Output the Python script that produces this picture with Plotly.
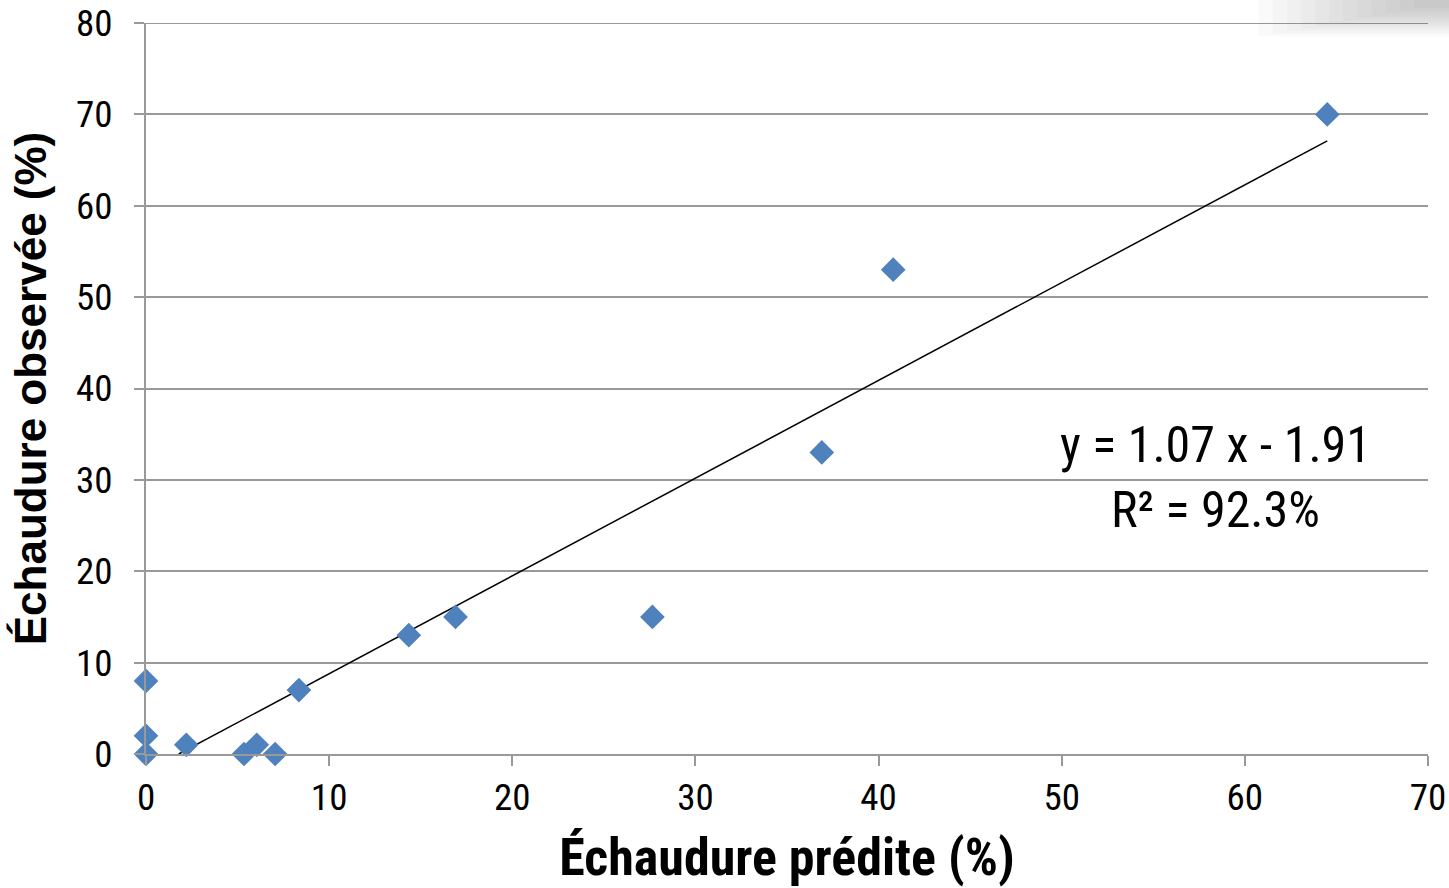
import plotly.graph_objects as go

predite = [0, 0, 0, 2.2, 5.35, 6.05, 7.05, 8.35, 14.35, 16.9, 27.65, 36.9, 40.8, 64.5]
observee = [0, 2, 8, 1, 0, 1, 0, 7, 13, 15, 15, 33, 53, 70]
pente = 1.07
ordonnee = -1.91
x_tendance = [1.785, 64.5]
y_tendance = [pente * x + ordonnee for x in x_tendance]
x_ticks = [0, 10, 20, 30, 40, 50, 60, 70]
y_ticks = [0, 10, 20, 30, 40, 50, 60, 70, 80]

font_narrow = "Liberation Sans Narrow, Arial Narrow, Roboto Condensed, sans-serif"
font_wide = "Liberation Sans"

fig = go.Figure()
fig.add_trace(go.Scatter(x=x_tendance, y=y_tendance, mode="lines",
                         line=dict(color="black", width=1.5), showlegend=False,
                         hoverinfo="skip"))
fig.add_trace(go.Scatter(x=predite, y=observee, mode="markers",
                         marker=dict(symbol="diamond", size=19, color="#4F81BD",
                                     line=dict(width=0)),
                         showlegend=False, cliponaxis=False))

# top gridline (plotly drops the grid line at the range edge)
fig.add_shape(type="line", xref="paper", yref="y", x0=0, x1=1,
              y0=y_ticks[-1], y1=y_ticks[-1],
              line=dict(color="#999999", width=2), layer="below")

# soft shadow in top-right corner
n = 12
for i in range(n):
    fig.add_shape(type="rect", xref="paper", yref="paper",
                  x0=0.868 + 0.011 * i, x1=1.02,
                  y0=0.982 + 0.0035 * i, y1=1.04,
                  fillcolor="#7a7a7a", opacity=0.035,
                  line=dict(width=0), layer="below")

fig.add_annotation(x=0.834, y=0.378, xref="paper", yref="paper",
                   text="y = 1.07 x - 1.91<br>R² = 92.3%", showarrow=False,
                   font=dict(family=font_narrow, size=50, color="black"),
                   align="center", xanchor="center", yanchor="middle")

fig.update_layout(
    width=1449, height=888,
    margin=dict(l=146, r=21, t=23, b=134, autoexpand=False),
    paper_bgcolor="white", plot_bgcolor="white",
    font=dict(family=font_narrow, color="black"),
    xaxis=dict(range=[0, 70], tickvals=x_ticks, showgrid=False, zeroline=False,
               automargin=False, ticklabeloverflow="allow",
               showline=True, linecolor="#999999", linewidth=2,
               ticks="outside", ticklen=10, tickcolor="#999999", tickwidth=2,
               tickfont=dict(size=37, family=font_narrow),
               title=dict(text="<b>Échaudure prédite (%)</b>", standoff=30,
                          font=dict(size=52, family=font_narrow))),
    yaxis=dict(range=[0, 80], tickvals=y_ticks, showgrid=True, gridcolor="#999999",
               automargin=False, ticklabeloverflow="allow", ticklabelstandoff=14,
               gridwidth=2, zeroline=False, showline=True, linecolor="#999999",
               linewidth=2, ticks="outside", ticklen=10, tickcolor="#999999",
               tickwidth=2, tickfont=dict(size=37, family=font_narrow),
               title=dict(text="<b>Échaudure observée (%)</b>", standoff=16,
                          font=dict(size=44, family=font_wide))),
)

# remove the page's default 8px body margin so the figure fills the window
fig.write_html("out.html", config={"displayModeBar": False},
               post_script="document.body.style.margin='0';document.body.style.overflow='hidden';")
